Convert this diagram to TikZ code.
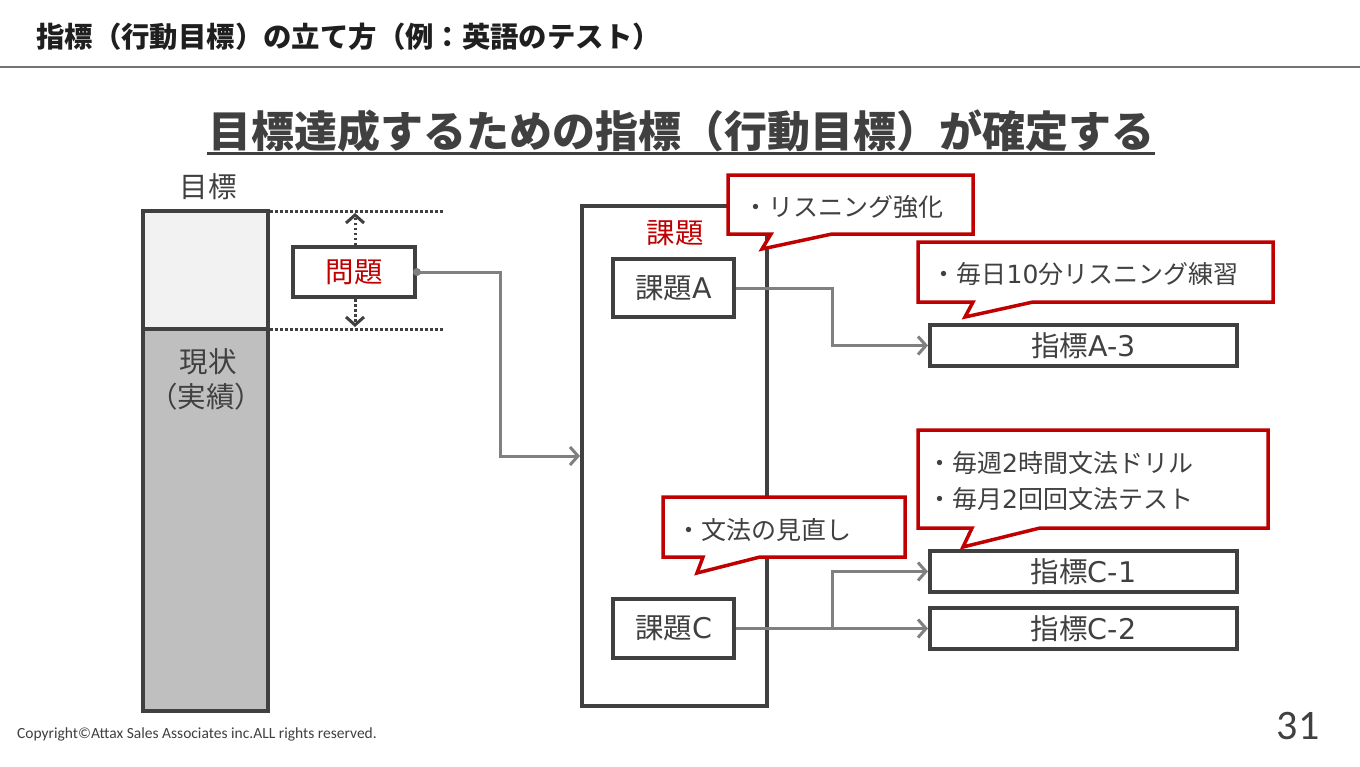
\documentclass[tikz,border=0pt]{standalone}
\usepackage{fontspec}
\setmainfont{Noto Sans CJK JP}
\newfontfamily\carlito{Carlito}
\newfontfamily\lat{DejaVu Sans}
\usetikzlibrary{arrows.meta}
\definecolor{dg}{HTML}{404040}
\definecolor{rd}{HTML}{C00000}
\definecolor{cg}{HTML}{808080}
\definecolor{lg}{HTML}{F2F2F2}
\definecolor{mg}{HTML}{BFBFBF}
\tikzset{
  every node/.style={font=\fontsize{28.5}{33}\selectfont, text=dg, inner sep=0pt},
  calltext/.style={font=\fontsize{25}{30}\selectfont},
  box/.style={draw=dg, line width=4pt, fill=white},
  conn/.style={draw=cg, line width=3pt, -{Straight Barb[length=8pt,width=18pt,line width=3pt]}},
  callout/.style={draw=rd, fill=white, line width=3.5pt, line join=miter},
  dotline/.style={draw=dg, line width=3pt, dash pattern=on 2.5pt off 2.5pt},
  dotarrow/.style={dotline, -{Straight Barb[length=8pt,width=18pt,line width=3pt]}},
}
\begin{document}
\begin{tikzpicture}[x=1pt,y=-1pt]
\useasboundingbox[fill=white] (0,0) rectangle (1360,766);

% header
\node[anchor=west, font=\fontsize{28.4}{32}\selectfont\bfseries, text=black!88] (title) at (36,37) {指標（行動目標）の立て方（例：英語のテスト）};
\draw[line width=2pt, draw=black!55] (0,67) -- (1360,67);

% main heading
\node[font=\fontsize{43}{48}\selectfont\bfseries, text=dg] (head) at (681,131) {目標達成するための指標（行動目標）が確定する};
\draw[dg, line width=3pt] (207,153) -- (1155,153);

% bar
\draw[dg, line width=4pt, fill=lg] (143,211) rectangle (268,329);
\draw[dg, line width=4pt, fill=mg] (143,329) rectangle (268,711);
\node (goallbl) at (208,187) {目標};
\node (cur1) at (208,362) {現状};
\node (cur2) at (206,397) {（実績）};

% dotted guides
\draw[dotline] (270,211) -- (443,211);
\draw[dotline] (270,329) -- (443,329);

% problem box
\node[box, minimum width=122pt, minimum height=50pt, text=rd] (mondai) at (354,272) {問題};
\coordinate (topdot) at (355,213);
\coordinate (botdot) at (355,327);
\draw[dotarrow] (mondai.north -| topdot) -- (topdot);
\draw[dotarrow] (mondai.south -| botdot) -- (botdot);

% big box
\node[box, minimum width=185pt, minimum height=500pt] (bigbox) at (674.5,456) {};
\node[text=rd] (kadai) at (675,233) {課題};
\node[box, minimum width=121pt, minimum height=58pt] (ka) at (673.5,288) {課題{\lat A}};
\node[box, minimum width=121pt, minimum height=59pt] (kc) at (673.5,628.5) {課題{\lat C}};

% indicator boxes
\node[box, minimum width=307pt, minimum height=41pt] (sa3) at (1083.5,345.5) {指標{\lat A-3}};
\node[box, minimum width=307pt, minimum height=41pt] (sc1) at (1083.5,571.5) {指標{\lat C-1}};
\node[box, minimum width=307pt, minimum height=41pt] (sc2) at (1083.5,628.5) {指標{\lat C-2}};

% connectors
\fill[cg] (mondai.east) circle (4pt);
\draw[conn] (mondai.east) -- ++(83,0) |- (bigbox.west);
\draw[conn] (ka.east) -- (832,288) |- (sa3.west);
\draw[conn] (kc.east) -- (sc2.west);
\coordinate (branch) at (832,628.5);
\draw[conn] (branch) |- (sc1.west);

% callouts
\draw[callout] (728,175) -- (973,175) -- (973,234) -- (832,234) -- (762,249) -- (771,234) -- (728,234) -- cycle;
\node[calltext] (c1) at (843,207) {・リスニング強化};

\draw[callout] (918,242) -- (1273,242) -- (1273,302) -- (1033,302) -- (965,317) -- (973,302) -- (918,302) -- cycle;
\node[calltext] (c2) at (1085,274) {・毎日{\lat 10}分リスニング練習};

\draw[callout] (918,430) -- (1268,430) -- (1268,528) -- (1040,528) -- (963,547) -- (972,528) -- (918,528) -- cycle;
\node[calltext, anchor=west] (c3a) at (927,463) {・毎週{\lat 2}時間文法ドリル};
\node[calltext, anchor=west] (c3b) at (927,499) {・毎月{\lat 2}回回文法テスト};

\draw[callout] (663,497) -- (905,497) -- (905,557) -- (760,557) -- (697,573) -- (703,557) -- (663,557) -- cycle;
\node[calltext] (c4) at (764,530) {・文法の見直し};

% footer
\node[anchor=west, font=\carlito\fontsize{15.5}{18}\selectfont] (copy) at (17,734) {Copyright©Attax Sales Associates inc.ALL rights reserved.};
\node[font=\carlito\fontsize{42}{46}\selectfont] (pg) at (1298,726) {31};
\end{tikzpicture}
\end{document}
